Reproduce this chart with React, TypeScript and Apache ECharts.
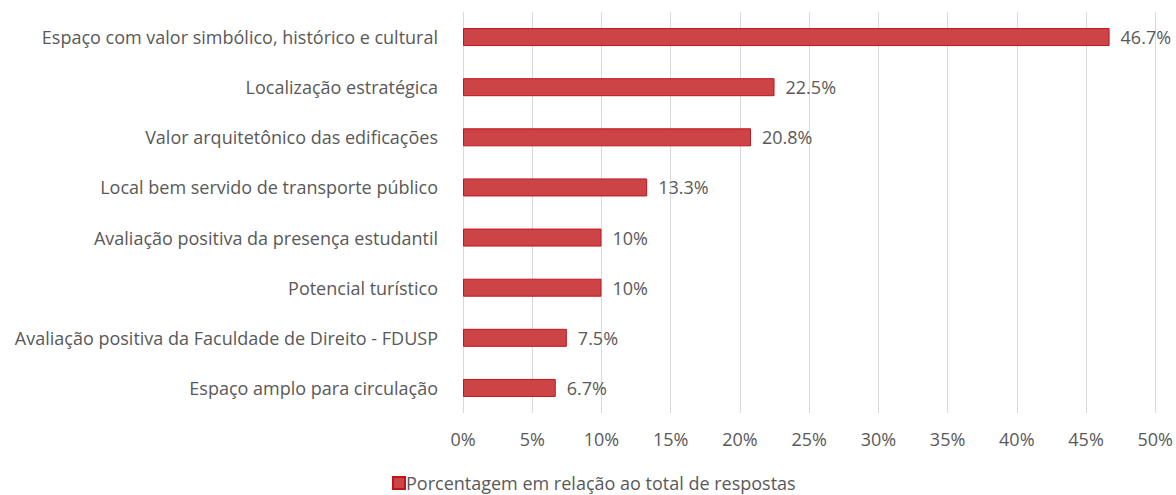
import React, { useEffect, useRef } from "react";
import * as echarts from "echarts";

const categories = [
  "Espaço com valor simbólico, histórico e cultural",
  "Localização estratégica",
  "Valor arquitetônico das edificações",
  "Local bem servido de transporte público",
  "Avaliação positiva da presença estudantil",
  "Potencial turístico",
  "Avaliação positiva da Faculdade de Direito - FDUSP",
  "Espaço amplo para circulação",
];
const values = [46.7, 22.5, 20.8, 13.3, 10, 10, 7.5, 6.7];
const seriesName = "Porcentagem em relação ao total de respostas";

const FONT = "'Open Sans', 'Noto Sans', sans-serif";
const TEXT = "#595959";

export default function App() {
  const ref = useRef<HTMLDivElement>(null);
  useEffect(() => {
    if (!ref.current) return;
    const chart = echarts.init(ref.current, null, { renderer: "svg" });
    chart.setOption({
      animation: false,
      backgroundColor: "#ffffff",
      textStyle: { fontFamily: FONT },
      grid: { left: 463, right: 19, top: 12, bottom: 82, containLabel: false },
      legend: {
        top: 474,
        left: 392,
        padding: 0,
        itemWidth: 12,
        itemHeight: 12,
        itemGap: 4,
        icon: "rect",
        textStyle: { color: TEXT, fontSize: 18, fontFamily: FONT, padding: [0, 0, 0, -4] },
        data: [seriesName],
      },
      xAxis: {
        type: "value",
        min: 0,
        max: 50,
        interval: 5,
        axisLine: { show: false },
        axisTick: { show: false },
        splitLine: { show: true, lineStyle: { color: "#d9d9d9", width: 1 } },
        axisLabel: {
          color: TEXT,
          fontSize: 18,
          fontFamily: FONT,
          margin: 17,
          formatter: (v: number) => v + "%",
        },
      },
      yAxis: {
        type: "category",
        inverse: true,
        data: categories,
        axisLine: { show: false },
        axisTick: { show: false },
        axisLabel: { color: TEXT, fontSize: 18, fontFamily: FONT, margin: 25, padding: [0, 0, 4, 0] },
      },
      series: [
        {
          name: seriesName,
          type: "bar",
          data: values,
          barWidth: 18,
          itemStyle: { color: "#cc4446", borderColor: "#c0141b", borderWidth: 1 },
          label: {
            show: true,
            position: "right",
            distance: 11,
            color: TEXT,
            fontSize: 18,
            fontFamily: FONT,
            formatter: (p: any) => p.value + "%",
          },
        },
      ],
    });
    return () => chart.dispose();
  }, []);
  return (
    <div
      ref={ref}
      style={{ position: "fixed", left: 0, top: 0, width: 1176, height: 495 }}
    />
  );
}
